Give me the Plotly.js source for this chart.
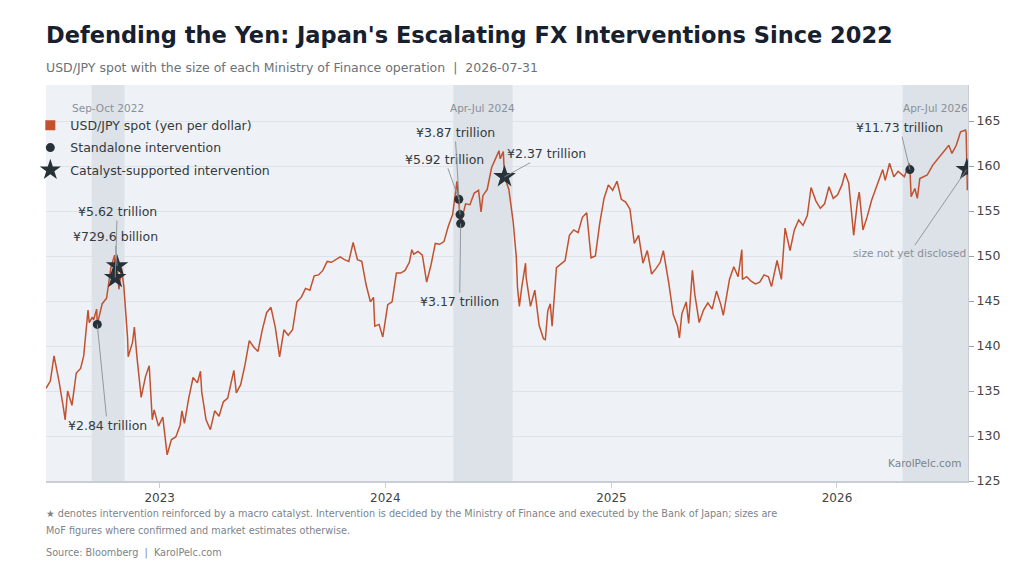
<!DOCTYPE html>
<html>
<head>
<meta charset="utf-8">
<script src="https://cdn.plot.ly/plotly-3.0.1.min.js"></script>
<style>html,body{margin:0;padding:0;background:#fff;}#chart{width:1024px;height:576px;}</style>
</head>
<body>
<div id="chart"></div>
<script>
// USD/JPY spot closes
const spotDates = [
"2022-07-01","2022-07-08","2022-07-14","2022-07-22","2022-07-29","2022-08-01","2022-08-05","2022-08-12","2022-08-19","2022-08-26",
"2022-08-31","2022-09-02","2022-09-07","2022-09-09","2022-09-14","2022-09-16","2022-09-21","2022-09-22","2022-09-30","2022-10-07",
"2022-10-14","2022-10-20","2022-10-21","2022-10-24","2022-10-27","2022-10-31","2022-11-04","2022-11-10","2022-11-11","2022-11-18",
"2022-11-21","2022-11-25","2022-12-02","2022-12-09","2022-12-15","2022-12-20","2022-12-23","2022-12-30",
"2023-01-06","2023-01-13","2023-01-20","2023-01-27","2023-02-03","2023-02-06","2023-02-10","2023-02-17","2023-02-24","2023-03-03","2023-03-08",
"2023-03-10","2023-03-17","2023-03-24","2023-03-31","2023-04-07","2023-04-14","2023-04-21","2023-04-28","2023-05-01","2023-05-05","2023-05-12",
"2023-05-19","2023-05-26","2023-06-02","2023-06-09","2023-06-16","2023-06-23","2023-06-30","2023-07-07","2023-07-14","2023-07-21",
"2023-07-28","2023-08-04","2023-08-11","2023-08-18","2023-08-25","2023-09-01","2023-09-08","2023-09-15","2023-09-22","2023-09-29",
"2023-10-06","2023-10-13","2023-10-20","2023-10-27","2023-11-03","2023-11-10","2023-11-17","2023-11-24","2023-12-01","2023-12-08",
"2023-12-13","2023-12-15","2023-12-22","2023-12-28",
"2024-01-05","2024-01-12","2024-01-19","2024-01-26","2024-02-02","2024-02-09","2024-02-13","2024-02-16","2024-02-23","2024-03-01",
"2024-03-08","2024-03-15","2024-03-22","2024-03-29","2024-04-05","2024-04-12","2024-04-19","2024-04-26","2024-04-29","2024-05-01",
"2024-05-02","2024-05-10","2024-05-17","2024-05-24","2024-05-31","2024-06-04","2024-06-07","2024-06-14","2024-06-21","2024-06-28",
"2024-07-03","2024-07-05","2024-07-10","2024-07-12","2024-07-19","2024-07-26","2024-07-31","2024-08-02","2024-08-05","2024-08-09",
"2024-08-15","2024-08-16","2024-08-23","2024-08-30","2024-09-06","2024-09-13","2024-09-16","2024-09-20","2024-09-24","2024-09-27",
"2024-10-04","2024-10-11","2024-10-18","2024-10-25","2024-11-01","2024-11-08","2024-11-15","2024-11-22","2024-11-29","2024-12-06",
"2024-12-13","2024-12-20","2024-12-27",
"2025-01-03","2025-01-10","2025-01-17","2025-01-24","2025-01-31","2025-02-07","2025-02-14","2025-02-21","2025-02-28","2025-03-07",
"2025-03-14","2025-03-21","2025-03-26","2025-03-28","2025-04-04","2025-04-11","2025-04-18","2025-04-21","2025-04-25","2025-05-02",
"2025-05-06","2025-05-12","2025-05-16","2025-05-23","2025-05-30","2025-06-06","2025-06-13","2025-06-20","2025-06-27","2025-07-01",
"2025-07-11","2025-07-18","2025-07-25","2025-07-31","2025-08-01","2025-08-08","2025-08-15","2025-08-22","2025-08-29","2025-09-05",
"2025-09-12","2025-09-17","2025-09-26","2025-10-03","2025-10-09","2025-10-17","2025-10-24","2025-10-31","2025-11-07","2025-11-14",
"2025-11-20","2025-11-28","2025-12-05","2025-12-12","2025-12-19","2025-12-26",
"2026-01-02","2026-01-09","2026-01-14","2026-01-20","2026-01-28","2026-02-03","2026-02-06","2026-02-12","2026-02-19","2026-02-26",
"2026-03-06","2026-03-16","2026-03-20","2026-03-27","2026-04-03","2026-04-10","2026-04-20","2026-04-28","2026-04-29","2026-05-01",
"2026-05-07","2026-05-11","2026-05-15","2026-05-27","2026-06-05","2026-06-15","2026-06-23","2026-07-01","2026-07-06","2026-07-13",
"2026-07-20","2026-07-28","2026-07-29","2026-07-30","2026-07-31"
];
const spotValues = [
135.3,136.1,138.9,136.1,133.2,131.8,135.0,133.4,137.0,137.5,
138.9,140.2,144.0,142.6,143.2,142.9,144.1,142.4,144.7,145.3,
148.7,150.1,147.6,148.9,146.3,148.7,146.6,140.9,138.8,140.4,
142.1,138.9,134.3,136.6,137.8,131.8,132.9,131.1,
132.1,127.9,129.6,129.9,131.2,132.8,131.4,134.2,136.5,135.9,137.2,
134.9,131.8,130.7,132.8,132.2,133.8,134.2,136.3,137.3,134.8,135.7,
137.9,140.6,139.9,139.4,141.8,143.7,144.3,142.1,138.8,141.8,
141.2,141.8,144.9,145.4,146.4,146.2,147.8,147.9,148.4,149.4,
149.3,149.6,149.9,149.6,149.4,151.5,149.6,149.4,146.8,144.9,
145.4,142.2,142.4,141.0,
144.6,144.9,148.1,148.1,148.4,149.3,150.7,150.2,150.5,150.1,
147.1,149.0,151.4,151.3,151.6,153.3,154.6,158.3,156.3,154.6,
153.6,155.8,155.7,157.0,157.3,154.9,156.7,157.4,159.8,160.9,
161.7,160.8,161.6,158.8,157.4,153.8,149.9,146.5,144.4,146.6,
149.2,147.6,144.4,146.2,142.3,140.8,140.7,143.9,144.7,142.2,
148.7,149.1,149.5,152.3,152.9,152.6,154.3,154.8,149.8,150.0,
153.6,156.4,157.9,
157.3,158.3,156.3,156.0,155.2,151.4,152.3,149.2,150.6,148.0,
148.6,149.3,150.6,149.8,146.9,143.5,142.2,140.9,143.6,144.9,
142.5,148.4,145.7,142.6,144.0,144.8,144.1,146.1,144.6,143.4,
147.4,148.8,147.7,150.7,147.4,147.7,147.2,146.9,147.1,147.9,
147.7,146.6,149.5,147.4,153.1,150.6,152.9,154.0,153.4,154.5,
157.6,156.1,155.3,155.8,157.7,156.4,
156.8,157.9,159.2,158.1,152.3,156.0,157.1,152.9,154.4,156.2,
157.7,159.6,158.4,160.3,158.8,159.4,158.8,160.3,159.6,156.6,
157.5,156.4,158.6,159.0,160.1,160.9,161.6,162.3,161.4,162.3,
163.8,164.0,163.7,159.6,157.3
];

// Ministry of Finance operations
const standaloneDates  = ["2022-09-22","2024-04-29","2024-05-01","2024-05-02","2026-04-29"];
const standaloneValues = [142.4,156.3,154.6,153.6,159.6];
const standaloneLabels = ["¥2.84 trillion","¥5.92 trillion","¥3.87 trillion","¥3.17 trillion","¥11.73 trillion"];

const catalystDates  = ["2022-10-21","2022-10-24","2024-07-12","2026-07-30"];
const catalystValues = [147.6,148.9,158.8,159.6];
const catalystLabels = ["¥5.62 trillion","¥729.6 billion","¥2.37 trillion","size not yet disclosed"];

// Intervention windows
const windowStarts = ["2022-09-13","2024-04-20","2026-04-17"];
const windowEnds   = ["2022-11-05","2024-07-25","2026-08-01"];
const windowLabels = ["Sep-Oct 2022","Apr-Jul 2024","Apr-Jul 2026"];

const yearTickVals = ["2023-01-01","2024-01-01","2025-01-01","2026-01-01"];
const yearTickText = ["2023","2024","2025","2026"];
const yTickVals = [125,130,135,140,145,150,155,160,165];

const LINE = "#c1512f";
const DARK = "#263238";
const FONT = "DejaVu Sans, Verdana, sans-serif";

// label offsets (pixels) for each marker annotation
const standaloneOffsets = [[10,101],[-14,-40],[-5,-82],[-1,78],[-10,-42]];
const catalystOffsets   = [[2,-66],[-2,-29],[42,-23],[-57,83]];

const traces = [
  {x: spotDates, y: spotValues, type: "scatter", mode: "lines",
   line: {color: LINE, width: 1.5}, showlegend: false, hoverinfo: "skip"},
  {x: [null], y: [null], type: "scatter", mode: "markers", name: "USD/JPY spot (yen per dollar)",
   legendgroup: "g1", marker: {symbol: "square", size: 10, color: LINE}},
  {x: standaloneDates, y: standaloneValues, type: "scatter", mode: "markers", name: "Standalone intervention",
   legendgroup: "g2", marker: {symbol: "circle", size: 9, color: DARK}},
  {x: catalystDates, y: catalystValues, type: "scatter", mode: "markers", name: "Catalyst-supported intervention",
   legendgroup: "g3", marker: {symbol: "star", size: 17, color: DARK}}
];

const annotations = [];
function addLabels(dates, vals, labels, offs) {
  for (let i = 0; i < dates.length; i++) {
    const small = labels[i] === "size not yet disclosed";
    annotations.push({
      x: dates[i], y: vals[i], xref: "x", yref: "y", text: labels[i],
      showarrow: true, arrowhead: 0, arrowwidth: 0.9, arrowcolor: "#8a8f94",
      ax: offs[i][0], ay: offs[i][1],
      font: {family: FONT, size: small ? 10.5 : 12.5, color: small ? "#8a9097" : "#333a40"}
    });
  }
}
addLabels(standaloneDates, standaloneValues, standaloneLabels, standaloneOffsets);
addLabels(catalystDates, catalystValues, catalystLabels, catalystOffsets);

const shapes = [];
for (let i = 0; i < windowStarts.length; i++) {
  shapes.push({type: "rect", xref: "x", yref: "paper", x0: windowStarts[i], x1: windowEnds[i], y0: 0, y1: 1,
    fillcolor: "rgba(160,168,180,0.22)", line: {width: 0}, layer: "below"});
  const s = new Date(windowStarts[i]).getTime(), e = new Date(windowEnds[i]).getTime();
  annotations.push({x: new Date((s + e) / 2).toISOString().slice(0, 10), xref: "x", yref: "paper", y: 0.962,
    text: windowLabels[i], showarrow: false, font: {family: FONT, size: 10.5, color: "#8a9097"}});
}

annotations.push({xref: "paper", yref: "paper", x: 0, y: 1.045, xanchor: "left", yanchor: "middle", xshift: -2,
  text: "USD/JPY spot with the size of each Ministry of Finance operation  |  2026-07-31", showarrow: false,
  font: {family: FONT, size: 12.5, color: "#6b7178"}});
annotations.push({xref: "paper", yref: "paper", x: 0.995, y: 0.045, xanchor: "right", yanchor: "middle",
  text: "KarolPelc.com", showarrow: false, font: {family: FONT, size: 10.5, color: "#7d838a"}});
annotations.push({xref: "paper", yref: "paper", x: 0, y: -0.083, xanchor: "left", yanchor: "middle", xshift: -2,
  text: "★ denotes intervention reinforced by a macro catalyst. Intervention is decided by the Ministry of Finance and executed by the Bank of Japan; sizes are",
  showarrow: false, font: {family: FONT, size: 9.7, color: "#7d838a"}});
annotations.push({xref: "paper", yref: "paper", x: 0, y: -0.126, xanchor: "left", yanchor: "middle", xshift: -2,
  text: "MoF figures where confirmed and market estimates otherwise.",
  showarrow: false, font: {family: FONT, size: 9.7, color: "#7d838a"}});
annotations.push({xref: "paper", yref: "paper", x: 0, y: -0.182, xanchor: "left", yanchor: "middle", xshift: -2,
  text: "Source: Bloomberg  |  KarolPelc.com",
  showarrow: false, font: {family: FONT, size: 9.7, color: "#7d838a"}});

const layout = {
  width: 1024, height: 576,
  margin: {l: 46, r: 56, t: 85, b: 95, pad: 0},
  paper_bgcolor: "#ffffff", plot_bgcolor: "#eef2f6",
  font: {family: FONT, color: "#444"},
  title: {text: "<b>Defending the Yen: Japan's Escalating FX Interventions Since 2022</b>",
    x: 0, xref: "paper", xanchor: "left", y: 1 - 35/576, yref: "container", yanchor: "middle",
    font: {family: FONT, size: 22.5, color: "#17202e"}},
  xaxis: {type: "date", range: ["2022-07-01", "2026-08-01"], tickvals: yearTickVals, ticktext: yearTickText,
    showgrid: false, zeroline: false, showline: true, linecolor: "#c9ced4", linewidth: 1.5,
    ticks: "outside", ticklen: 5, tickcolor: "#c9ced4", tickfont: {family: FONT, size: 12, color: "#444"}},
  yaxis: {range: [125, 169], side: "right", tickvals: yTickVals, showgrid: true, gridcolor: "#dde2e8", gridwidth: 1,
    zeroline: false, showline: true, linecolor: "#c9ced4", linewidth: 1,
    ticks: "outside", ticklen: 5, tickcolor: "#9aa0a6", tickfont: {family: FONT, size: 12.5, color: "#444"}},
  legend: {x: -0.017, y: 0.935, xanchor: "left", yanchor: "top", bgcolor: "rgba(0,0,0,0)",
    font: {family: FONT, size: 12.5, color: "#333a40"}, itemwidth: 30, tracegroupgap: 3, traceorder: "grouped"},
  shapes: shapes,
  annotations: annotations,
  hovermode: false
};

Plotly.newPlot("chart", traces, layout, {staticPlot: true});
</script>
</body>
</html>
